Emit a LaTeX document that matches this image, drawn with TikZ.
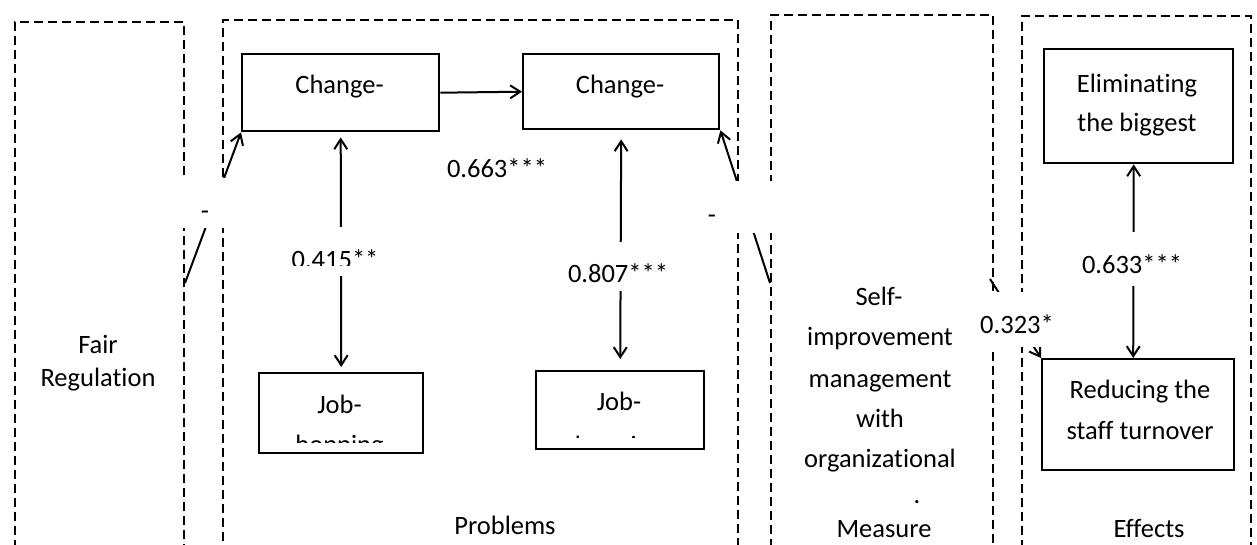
\documentclass[tikz,border=0pt]{standalone}
\usepackage{fontspec}
\setmainfont{Carlito}[Ligatures={NoCommon}]
\usetikzlibrary{arrows.meta}
\begin{document}
\begin{tikzpicture}[x=1pt,y=-1pt,
  frame/.style={draw, line width=2pt, dash pattern=on 9pt off 5pt, rectangle, inner sep=0pt, anchor=north west},
  stepbox/.style={draw, line width=2.4pt, rectangle, inner sep=0pt, anchor=north west},
  txt/.style={anchor=base, inner sep=0pt, font=\fontsize{26.5}{32}\selectfont},
  gapbox/.style={fill=white, inner sep=0pt, anchor=north west},
  conn/.style={line width=2pt, -{Straight Barb[length=10pt,width=13pt]}},
  twoway/.style={line width=2pt, {Straight Barb[length=10pt,width=13pt]}-{Straight Barb[length=10pt,width=13pt]}},
]
\useasboundingbox (0,0) rectangle (1257,544);
\clip (0,0) rectangle (1257,544);

% dashed group frames (they run past the lower edge)
\node[frame, minimum width=169pt, minimum height=600pt] (frFair) at (14,21) {};
\node[frame, minimum width=515pt, minimum height=600pt] (frProb) at (222,19) {};
\node[frame, minimum width=222pt, minimum height=600pt] (frMeas) at (770,14) {};
\node[frame, minimum width=229pt, minimum height=600pt] (frEff) at (1021,15) {};

% solid boxes
\node[stepbox, minimum width=197pt, minimum height=77pt] (ch1) at (241,53) {};
\node[stepbox, minimum width=196pt, minimum height=75pt] (ch2) at (522,53) {};
\node[stepbox, minimum width=164pt, minimum height=80pt] (job1) at (258,372) {};
\node[stepbox, minimum width=168pt, minimum height=78pt] (job2) at (535,370) {};
\node[stepbox, minimum width=189pt, minimum height=114pt] (elim) at (1043,48) {};
\node[stepbox, minimum width=192pt, minimum height=111pt] (red) at (1041,358) {};

% free ends of the arrows leaving the frames
\coordinate (fairOut) at (185,283);
\coordinate (measOut) at (770,283);
\coordinate (measOut2) at (990,279);

% connectors
\draw[conn] (ch1.east) -- (ch2.west);
\draw[twoway, shorten <=5pt, shorten >=5pt] (ch1.south) -- (job1.north);
\draw[twoway, shorten <=9pt, shorten >=11pt] (ch2.south) -- (job2.north);
\draw[twoway] ([xshift=-5pt]elim.south) -- ([xshift=-5pt]red.north);
\draw[conn] (fairOut) -- (ch1.south west);
\draw[conn] (measOut) -- (ch2.south east);
\draw[conn] (measOut2) -- (red.north west);

% white label boxes
\node[gapbox, minimum width=52pt, minimum height=50pt] (gapA) at (180,178) {};
\node[gapbox, minimum width=78pt, minimum height=52pt] (gapB) at (700,181) {};
\node[gapbox, minimum width=107pt, minimum height=49pt] (gapC) at (285,227) {};
\node[gapbox, minimum width=107pt, minimum height=49pt] (gapD) at (565,242) {};
\node[gapbox, minimum width=105pt, minimum height=54pt] (gapE) at (1080,232) {};
\node[gapbox, minimum width=90pt, minimum height=55pt] (gapF) at (972,292) {};

% labels
\node[txt] (lA) at (205,219) {-};
\node[txt] (lB) at (712,223) {-};
\node[txt] (l663) at (497,177) {0.663***};
\begin{scope}
  \clip (285,227) rectangle (392,265);
  \node[txt] (l415) at (335,268) {0.415**};
\end{scope}
\node[txt] (l807) at (618,282) {0.807***};
\node[txt] (l633) at (1132,273) {0.633***};
\node[txt] (l323) at (1017,333) {0.323*};

% box texts
\node[txt] (tch1) at (339.5,93) {Change-};
\node[txt] (tch2) at (620,93) {Change-};
\node[txt] (tjob1) at (339.5,413) {Job-};
\begin{scope}
  \clip (258,372) rectangle (422,442);
  \node[txt] (thop1) at (339.5,453) {hopping};
\end{scope}
\node[txt] (tjob2) at (619,410) {Job-};
\begin{scope}
  \clip (535,370) rectangle (703,437);
  \node[txt] (thop2) at (619,454) {hopping};
\end{scope}
\node[txt] (tel1) at (1137,92) {Eliminating};
\node[txt] (tel2) at (1137,131) {the biggest};
\node[txt] (tre1) at (1140,398) {Reducing the};
\node[txt] (tre2) at (1140,439) {staff turnover};

% frame texts
\node[txt] (fair1) at (98,353) {Fair};
\node[txt] (fair2) at (98,386) {Regulation};
\node[txt] (prob) at (505,534) {Problems};
\node[txt] (m1) at (879,305) {Self-};
\node[txt] (m2) at (880,345) {improvement};
\node[txt] (m3) at (880,387) {management};
\node[txt] (m4) at (880,427) {with};
\node[txt] (m5) at (880,467) {organizational};
\node[txt] (m6) at (917,503) {.};
\node[txt] (m7) at (884,537) {Measure};
\node[txt] (eff) at (1149,537) {Effects};
\end{tikzpicture}
\end{document}
